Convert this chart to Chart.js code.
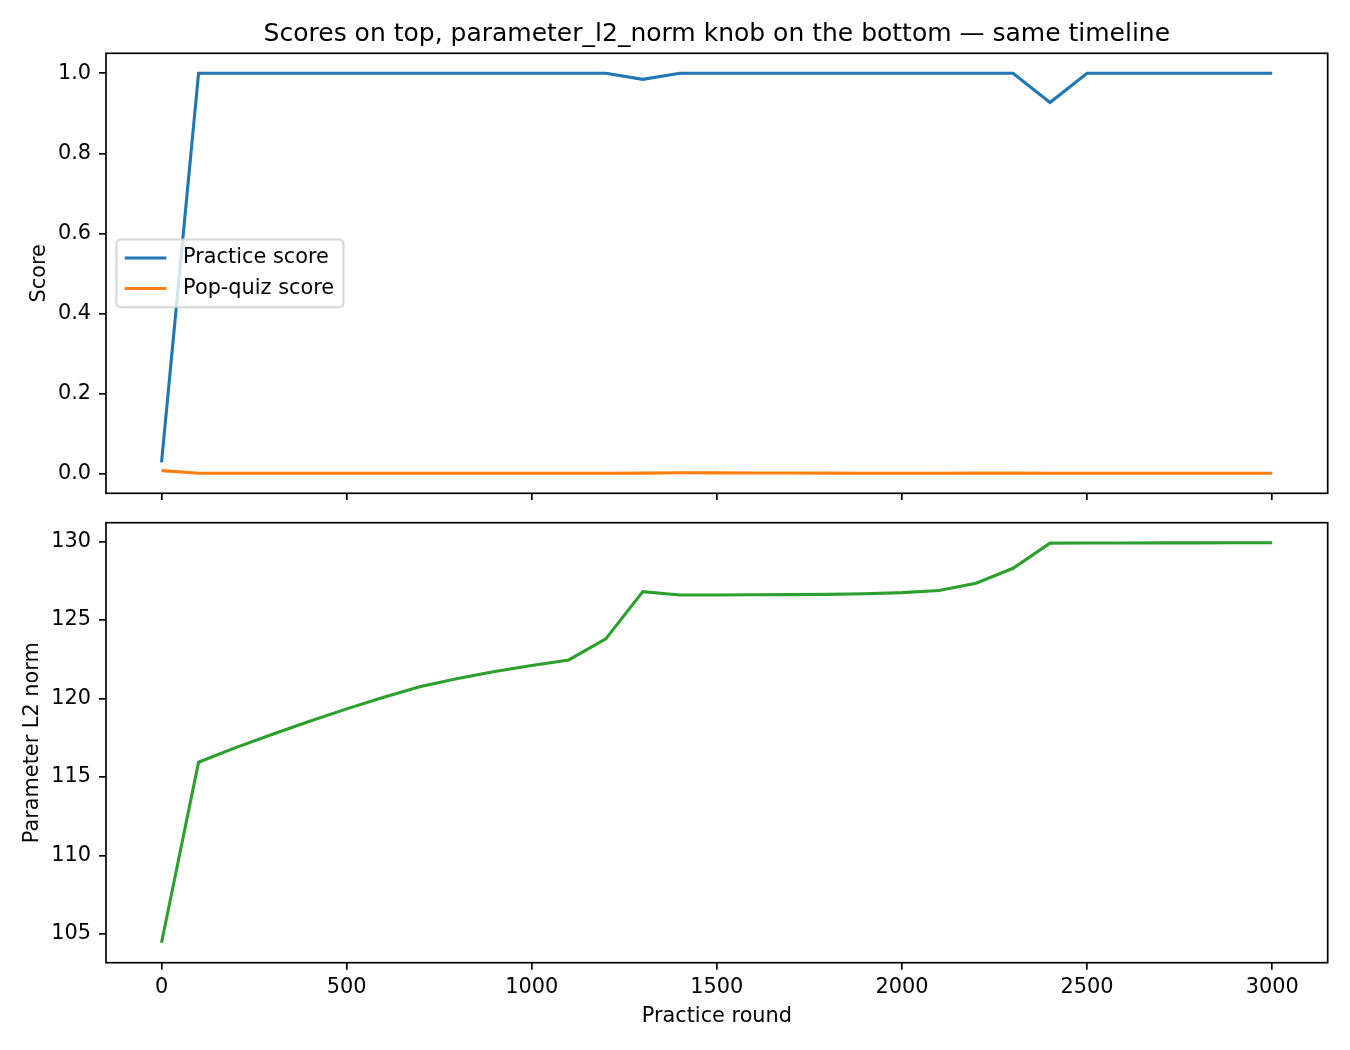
<!DOCTYPE html>
<html>
<head>
<meta charset="utf-8">
<title>Scores and parameter L2 norm</title>
<script src="https://cdn.jsdelivr.net/npm/chart.js@4.4.1/dist/chart.umd.min.js"></script>
<style>
  body { margin: 0; background: #fff; }
  #wrap { position: relative; width: 1350px; height: 1050px; }
  canvas { position: absolute; left: 0; }
  #scoreChart { top: 0; }
  #normChart { top: 500px; }
</style>
</head>
<body>
<div id="wrap">
  <canvas id="scoreChart" width="1350" height="500"></canvas>
  <canvas id="normChart" width="1350" height="550"></canvas>
</div>
<script>
// Practice rounds (shared timeline for both panels)
const rounds = [0, 100, 200, 300, 400, 500, 600, 700, 800, 900, 1000,
  1100, 1200, 1300, 1400, 1500, 1600, 1700, 1800, 1900, 2000,
  2100, 2200, 2300, 2400, 2500, 2600, 2700, 2800, 2900, 3000];

// Top panel: scores
const practiceScore = [0.028, 1, 1, 1, 1, 1, 1, 1, 1, 1, 1,
  1, 1, 0.985, 1, 1, 1, 1, 1, 1, 1,
  1, 1, 1, 0.927, 1, 1, 1, 1, 1, 1];
const popQuizScore = [0.0075, 0.001, 0.001, 0.001, 0.001, 0.001, 0.001, 0.001, 0.001, 0.001, 0.001,
  0.001, 0.001, 0.0012, 0.002, 0.0018, 0.0016, 0.0015, 0.0012, 0.001, 0.001,
  0.001, 0.0012, 0.0012, 0.0008, 0.0008, 0.0008, 0.0008, 0.0008, 0.0008, 0.0008];

// Bottom panel: parameter L2 norm
const paramNorm = [104.44, 115.94, 116.87, 117.72, 118.55, 119.34, 120.08, 120.76, 121.28, 121.72, 122.1,
  122.46, 123.8, 126.81, 126.6, 126.6, 126.61, 126.62, 126.64, 126.68, 126.75,
  126.88, 127.35, 128.3, 129.9, 129.91, 129.91, 129.92, 129.92, 129.93, 129.93];

// Tick labels
const roundTicks = [0, 500, 1000, 1500, 2000, 2500, 3000];
const scoreTicks = [0, 0.2, 0.4, 0.6, 0.8, 1.0];
const normTicks = [105, 110, 115, 120, 125, 130];

const FONT = 20.83;
Chart.defaults.font.family = "'DejaVu Sans', sans-serif";
Chart.defaults.font.size = FONT;
Chart.defaults.color = '#000';

// Axis range with a 5% margin on each side, like matplotlib does
function padRange(values) {
  const lo = Math.min(...values);
  const hi = Math.max(...values);
  const m = (hi - lo) * 0.05;
  return { min: lo - m, max: hi + m };
}

function points(ys) {
  return rounds.map((r, i) => ({ x: r, y: ys[i] }));
}

// Draw the full box around the plot area
const framePlugin = {
  id: 'frame',
  afterDatasetsDraw(chart) {
    const a = chart.chartArea;
    const ctx = chart.ctx;
    ctx.save();
    ctx.strokeStyle = '#000';
    ctx.lineWidth = 1.67;
    ctx.strokeRect(a.left, a.top, a.right - a.left, a.bottom - a.top);
    ctx.restore();
  }
};

// Legend inside the axes, centred on the left edge
const insideLegend = {
  id: 'insideLegend',
  afterDraw(chart) {
    const ctx = chart.ctx;
    const a = chart.chartArea;
    const sets = chart.data.datasets;
    const pad = 0.4 * FONT;
    const handle = 2 * FONT;
    const gap = 0.8 * FONT;
    const rowH = 20.5;
    const spacing = 10;
    ctx.save();
    ctx.font = FONT + "px 'DejaVu Sans'";
    const textW = Math.max(...sets.map(d => ctx.measureText(d.label).width));
    const w = pad + handle + gap + textW + pad + 1;
    const h = 2 * pad + sets.length * rowH + (sets.length - 1) * spacing;
    const x = a.left + 0.5 * FONT;
    const y = (a.top + a.bottom) / 2 - h / 2;

    ctx.beginPath();
    if (ctx.roundRect) ctx.roundRect(x, y, w, h, 4); else ctx.rect(x, y, w, h);
    ctx.fillStyle = 'rgba(255,255,255,0.8)';
    ctx.fill();
    ctx.strokeStyle = 'rgba(204,204,204,0.8)';
    ctx.lineWidth = 2;
    ctx.stroke();

    sets.forEach((d, i) => {
      const cy = y + pad + rowH / 2 + i * (rowH + spacing);
      ctx.beginPath();
      ctx.moveTo(x + pad, cy);
      ctx.lineTo(x + pad + handle, cy);
      ctx.strokeStyle = d.borderColor;
      ctx.lineWidth = 3.1;
      ctx.stroke();
      ctx.fillStyle = '#000';
      ctx.textBaseline = 'middle';
      ctx.textAlign = 'left';
      ctx.fillText(d.label, x + pad + handle + gap, cy);
    });
    ctx.restore();
  }
};

// Tick marks only, outside the axes
const tickGrid = {
  drawOnChartArea: false,
  drawTicks: true,
  tickLength: 7,
  color: '#000',
  lineWidth: 1.67
};

const lineStyle = {
  borderWidth: 3.1,
  pointRadius: 0,
  tension: 0,
  fill: false
};

const roundRange = padRange(rounds);
const scoreRange = padRange(practiceScore.concat(popQuizScore));
const normRange = padRange(paramNorm);

// Top panel
new Chart(document.getElementById('scoreChart'), {
  type: 'line',
  data: {
    datasets: [
      { label: 'Practice score', data: points(practiceScore), borderColor: '#1f77b4', ...lineStyle },
      { label: 'Pop-quiz score', data: points(popQuizScore), borderColor: '#ff7f0e', ...lineStyle }
    ]
  },
  options: {
    responsive: false,
    animation: false,
    devicePixelRatio: 1,
    layout: { padding: { left: 0, right: 22.3, top: 0, bottom: 0 } },
    plugins: {
      legend: { display: false },
      tooltip: { enabled: false },
      title: {
        display: true,
        fullSize: false,
        text: 'Scores on top, parameter_l2_norm knob on the bottom \u2014 same timeline',
        color: '#000',
        font: { size: 25, weight: 'normal' },
        padding: { top: 19, bottom: 4.3 }
      }
    },
    scales: {
      x: {
        type: 'linear',
        min: roundRange.min,
        max: roundRange.max,
        afterBuildTicks: s => { s.ticks = roundTicks.map(v => ({ value: v })); },
        ticks: { display: false },
        grid: tickGrid,
        border: { display: false },
        afterFit: s => { s.height = 6.7; s.paddingLeft = 0; s.paddingRight = 0; }
      },
      y: {
        min: scoreRange.min,
        max: scoreRange.max,
        afterBuildTicks: s => { s.ticks = scoreTicks.map(v => ({ value: v })); },
        ticks: { padding: 8, callback: v => v.toFixed(1) },
        grid: tickGrid,
        border: { display: false },
        title: { display: true, text: 'Score', padding: { top: 27, bottom: 0 } },
        afterFit: s => { s.width = 106; s.paddingTop = 0; s.paddingBottom = 0; }
      }
    }
  },
  plugins: [framePlugin, insideLegend]
});

// Bottom panel
new Chart(document.getElementById('normChart'), {
  type: 'line',
  data: {
    datasets: [
      { label: 'Parameter L2 norm', data: points(paramNorm), borderColor: '#2ca02c', ...lineStyle }
    ]
  },
  options: {
    responsive: false,
    animation: false,
    devicePixelRatio: 1,
    layout: { padding: { left: 0, right: 22.3, top: 22.7, bottom: 0 } },
    plugins: {
      legend: { display: false },
      tooltip: { enabled: false }
    },
    scales: {
      x: {
        type: 'linear',
        min: roundRange.min,
        max: roundRange.max,
        afterBuildTicks: s => { s.ticks = roundTicks.map(v => ({ value: v })); },
        ticks: { padding: 5, callback: v => String(v) },
        grid: tickGrid,
        border: { display: false },
        title: { display: true, text: 'Practice round', padding: { top: 0, bottom: 20.5 } },
        afterFit: s => { s.height = 87.3; s.paddingLeft = 0; s.paddingRight = 0; }
      },
      y: {
        min: normRange.min,
        max: normRange.max,
        afterBuildTicks: s => { s.ticks = normTicks.map(v => ({ value: v })); },
        ticks: { padding: 8, callback: v => String(v) },
        grid: tickGrid,
        border: { display: false },
        title: { display: true, text: 'Parameter L2 norm', padding: { top: 20, bottom: 0 } },
        afterFit: s => { s.width = 106; s.paddingTop = 0; s.paddingBottom = 0; }
      }
    }
  },
  plugins: [framePlugin]
});
</script>
</body>
</html>
